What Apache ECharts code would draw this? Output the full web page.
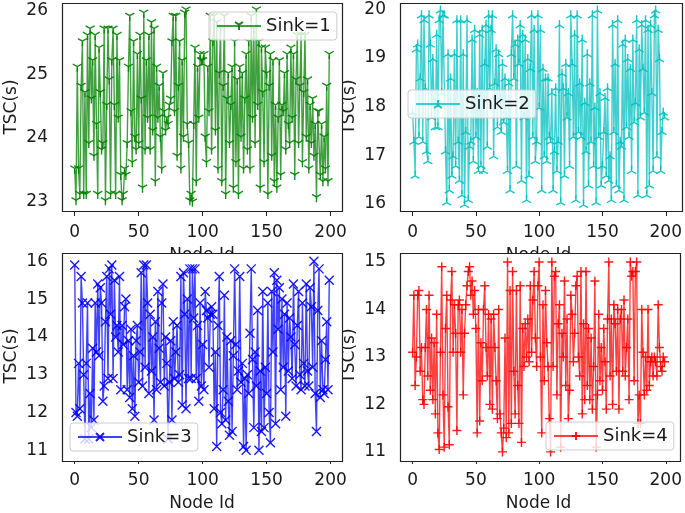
<!DOCTYPE html>
<html><head><meta charset="utf-8">
<script src="https://cdn.jsdelivr.net/npm/echarts@6/dist/echarts.min.js"></script>
<style>html,body{margin:0;padding:0;background:#fff}#c{width:685px;height:513px}</style>
</head><body><div id="c"></div>
<script>
const xTicks = [0, 50, 100, 150, 200];
const xLabel = 'Node Id';
const yLabel = 'TSC(s)';
const names = ['Sink=1', 'Sink=2', 'Sink=3', 'Sink=4'];
const yTicks1 = [23, 24, 25, 26];
const yTicks2 = [16, 17, 18, 19, 20];
const yTicks3 = [11, 12, 13, 14, 15, 16];
const yTicks4 = [11, 12, 13, 14, 15];

const sink1 = [
23.5,23.0,25.1,23.5,23.1,24.8,25.5,23.1,24.7,23.1,
25.6,23.9,25.7,24.6,25.2,23.7,25.6,24.2,23.1,25.4,
24.7,23.8,23.9,25.7,23.0,24.5,25.7,24.9,23.1,25.2,
25.7,24.5,23.1,25.6,24.3,25.2,23.4,23.0,23.1,23.5,
23.4,23.9,25.1,25.9,24.4,23.6,25.5,24.0,23.8,25.3,
23.9,25.6,24.6,23.2,25.95,23.8,25.2,24.3,25.6,23.8,
25.8,24.1,25.7,23.3,25.1,24.3,24.8,24.0,23.5,25.0,
24.4,24.1,24.3,24.2,24.5,24.6,25.5,25.9,24.4,25.9,
23.7,24.8,25.5,23.5,25.2,24.0,25.95,26.0,24.2,23.9,
23.0,23.1,22.98,24.2,25.4,23.3,25.1,24.3,25.3,25.2,
25.2,25.3,24.0,23.6,25.1,24.4,25.9,23.8,25.5,25.9,
24.1,25.8,23.5,25.0,25.7,23.3,24.8,25.9,23.1,24.6,
25.0,23.9,24.5,25.1,23.2,25.5,23.6,24.9,23.1,25.1,
24.0,25.0,23.5,24.6,25.3,23.8,25.5,23.5,25.9,24.3,
25.7,23.9,26.0,24.5,25.5,23.2,25.4,24.7,23.6,25.4,
25.0,23.1,24.8,25.3,23.7,25.2,23.3,24.5,23.2,24.3,
25.2,23.4,24.5,24.4,25.0,23.8,25.3,24.2,23.9,25.4,
24.3,25.3,23.4,24.9,25.6,23.9,24.8,25.6,23.6,24.7,
25.6,24.0,24.9,23.5,24.5,23.9,24.6,23.7,24.2,23.05,
24.4,24.4,23.4,24.2,23.3,24.0,23.5,24.8,23.3,25.3
];
const sink2 = [
17.9,17.3,16.6,19.2,19.3,17.4,18.6,19.9,17.3,19.8,
18.4,17.1,16.9,19.9,19.3,17.8,19.0,18.1,17.6,19.5,
17.6,19.8,20.0,18.3,19.9,19.9,17.1,16.05,19.1,16.3,
18.6,16.6,17.0,19.1,16.8,19.8,17.3,16.5,19.8,16.2,
19.1,16.0,17.5,19.8,16.1,17.2,17.3,19.4,16.9,19.6,
17.4,18.3,16.7,19.5,16.8,19.6,16.7,18.9,19.7,17.2,
19.9,18.4,19.6,19.9,17.0,18.5,19.2,17.6,19.1,18.2,
17.5,18.9,17.7,18.6,17.8,16.7,18.5,16.3,19.1,19.9,
18.6,19.3,16.8,19.4,18.9,19.7,16.5,19.5,17.8,19.4,
16.1,19.0,16.6,18.8,19.9,17.4,19.6,16.9,17.3,19.9,
18.0,19.6,16.3,18.8,17.0,18.6,16.9,18.6,17.4,17.3,
18.3,16.3,17.1,18.4,16.7,17.3,19.7,16.05,18.7,18.4,
16.6,18.9,17.8,18.3,16.8,19.9,18.9,17.4,19.5,16.1,
19.9,17.5,18.5,17.4,19.4,16.0,18.1,17.1,19.1,16.4,
18.5,17.3,19.9,16.8,18.0,16.05,20.0,17.4,18.3,16.4,
16.8,17.5,18.2,16.6,18.4,16.5,17.0,16.1,19.7,17.5,
18.9,16.4,19.8,16.3,17.3,17.2,19.3,16.1,19.4,17.6,
19.0,17.4,18.8,16.7,19.4,17.7,18.1,19.8,16.2,19.2,
17.8,19.7,18.8,17.9,19.8,16.2,19.6,16.4,19.7,18.3,
16.7,19.9,20.0,17.0,19.6,19.0,16.7,17.5,17.9,17.8
];
const sink3 = [
15.9,12.0,11.9,13.3,12.1,15.6,14.9,13.0,11.3,13.3,
14.9,11.3,12.5,11.6,13.7,11.8,14.9,13.6,15.4,13.5,
15.3,14.9,12.3,12.7,14.4,15.6,12.9,15.8,14.6,15.9,
12.9,15.5,14.0,14.3,13.6,15.6,12.6,14.3,13.8,14.8,
15.0,12.6,13.9,12.4,14.2,12.1,13.5,11.9,13.9,14.3,
12.8,13.6,15.7,12.7,15.9,13.2,15.9,14.9,12.5,14.6,
13.1,14.0,11.8,14.4,12.6,15.2,13.7,12.8,14.9,15.4,
12.7,14.0,13.3,11.3,12.8,13.9,11.8,14.4,12.9,13.6,
14.3,12.8,13.0,15.6,12.2,15.7,14.6,12.1,15.0,12.9,
15.8,12.9,15.8,14.5,15.8,12.9,14.3,12.3,14.9,12.7,
13.8,12.6,15.2,14.7,14.5,13.2,14.6,14.8,14.6,12.1,
13.6,11.1,14.3,15.6,12.0,11.7,12.6,15.1,11.8,14.0,
12.3,11.4,13.9,11.5,13.5,15.8,13.8,12.6,13.1,15.6,
12.8,13.3,11.1,12.9,11.0,13.0,12.5,14.1,15.8,13.4,
11.6,13.6,12.7,14.7,11.0,13.1,11.5,15.2,11.6,13.2,
12.5,14.9,12.0,11.2,15.2,13.6,15.7,11.7,15.5,14.2,
15.3,12.6,15.0,13.2,14.6,11.9,14.9,13.1,14.5,14.0,
12.9,15.4,13.8,12.7,14.3,15.2,13.0,12.6,14.9,13.3,
12.7,15.4,13.1,12.7,15.3,14.8,13.2,16.0,12.5,11.5,
14.7,15.8,12.4,13.9,12.6,12.5,13.4,14.4,12.6,15.5
];
const sink4 = [
13.1,14.3,12.4,13.0,14.3,14.4,12.7,13.2,12.1,12.0,
13.2,14.0,12.6,14.3,12.3,13.4,12.1,13.3,11.8,13.9,
11.4,11.05,13.1,14.9,12.2,11.1,13.6,14.3,11.95,11.15,
14.2,14.8,13.1,14.1,13.5,11.45,14.1,14.2,13.1,14.0,
12.2,13.5,14.1,14.5,14.8,14.9,14.3,14.6,13.9,14.4,
13.6,11.4,14.0,11.65,13.3,12.5,14.0,14.5,13.2,12.6,
13.9,12.0,13.8,11.9,13.9,13.2,12.5,11.7,14.0,11.8,
11.4,11.0,11.5,13.4,11.3,15.0,11.4,14.4,11.6,14.8,
12.7,11.8,14.4,12.4,11.6,14.5,11.2,13.6,12.8,13.7,
13.0,13.8,12.9,14.5,13.1,14.2,14.8,13.4,12.8,14.5,
15.0,13.0,11.4,14.1,12.5,14.4,13.3,12.8,11.7,11.0,
15.0,12.8,14.7,14.8,12.2,13.7,14.1,11.1,13.5,13.0,
14.6,12.4,13.8,11.7,12.3,14.3,13.9,12.9,13.5,14.5,
14.7,13.0,12.6,14.8,11.8,13.7,12.1,14.8,12.4,13.6,
12.1,13.4,11.9,12.8,14.6,11.1,12.2,13.9,12.5,13.2,
12.3,13.6,12.9,11.9,13.8,15.0,12.6,13.8,12.0,14.1,
13.7,12.7,14.0,11.9,13.8,14.0,12.7,14.2,12.6,13.2,
13.8,12.1,15.0,14.7,14.8,12.5,14.8,15.0,11.6,12.2,
11.6,14.0,13.1,12.2,13.0,12.3,14.0,12.4,12.9,13.0,
12.6,13.0,12.9,12.6,14.1,13.2,12.8,12.7,13.0,12.9
];

const FONT = 'DejaVu Sans';
const TXT = '#1a1a1a';
const TICK_FS = 17, NAME_FS = 17, LEG_FS = 18;
const panels = [
  {data: sink1, yTicks: yTicks1, ymin: 22.85, ymax: 26.12, color: '#008000',
   sym: 'path://M5,5 L5,10 M5,5 L0.67,2.5 M5,5 L9.33,2.5',
   grid: {left: 62, top: 3, width: 280, height: 208}, legend: {left: 209, top: 12}},
  {data: sink2, yTicks: yTicks2, ymin: 15.85, ymax: 20.13, color: '#00bfbf',
   sym: 'path://M5,5 L5,0 M5,5 L0.67,7.5 M5,5 L9.33,7.5',
   grid: {left: 400, top: 3, width: 282, height: 208}, legend: {left: 408, top: 90}},
  {data: sink3, yTicks: yTicks3, ymin: 10.77, ymax: 16.22, color: '#0000ff',
   sym: 'path://M0,0 L10,10 M10,0 L0,10',
   grid: {left: 62, top: 253, width: 280, height: 208}, legend: {left: 70, top: 423}},
  {data: sink4, yTicks: yTicks4, ymin: 10.85, ymax: 15.19, color: '#ff0000',
   sym: 'path://M5,0 L5,10 M0,5 L10,5',
   grid: {left: 400, top: 253, width: 280, height: 208}, legend: {left: 546, top: 422}}
];

const option = {
  animation: false,
  backgroundColor: '#fff',
  textStyle: {fontFamily: FONT},
  grid: [], xAxis: [], yAxis: [], series: [], legend: [], graphic: []
};
panels.forEach((p, i) => {
  option.grid.push(Object.assign({containLabel: false}, p.grid));
  option.graphic.push({type: 'rect', z: 1, silent: true,
    shape: {x: p.grid.left + 0.5, y: p.grid.top + 0.5, width: p.grid.width, height: p.grid.height},
    style: {fill: '#fff', stroke: '#222', lineWidth: 1.2}});
  option.xAxis.push({type: 'value', gridIndex: i, min: -9.95, max: 208.95,
    name: xLabel, nameLocation: 'middle', nameGap: 36,
    nameTextStyle: {fontFamily: FONT, fontSize: NAME_FS, color: TXT},
    axisLine: {show: false}, splitLine: {show: false},
    axisTick: {show: true, length: 5, inside: false, customValues: xTicks, lineStyle: {color: '#222'}},
    axisLabel: {customValues: xTicks, margin: 13, fontFamily: FONT, fontSize: TICK_FS, color: TXT}});
  option.yAxis.push({type: 'value', gridIndex: i, min: p.ymin, max: p.ymax,
    name: yLabel, nameLocation: 'middle', nameGap: 42, nameRotate: 90,
    nameTextStyle: {fontFamily: FONT, fontSize: NAME_FS, color: TXT},
    axisLine: {show: false}, splitLine: {show: false},
    axisTick: {show: true, length: 5, inside: false, customValues: p.yTicks, lineStyle: {color: '#222'}},
    axisLabel: {customValues: p.yTicks, margin: 14, fontFamily: FONT, fontSize: TICK_FS, color: TXT}});
  option.series.push({type: 'line', name: names[i], xAxisIndex: i, yAxisIndex: i, z: 2,
    data: p.data.map((v, k) => [k, v]),
    symbol: p.sym, symbolSize: 9, symbolKeepAspect: true, showAllSymbol: true,
    lineStyle: {color: p.color, width: 1.4, opacity: 0.75},
    itemStyle: {color: 'rgba(0,0,0,0)', borderColor: p.color, borderWidth: 1.4, opacity: 0.9},
    emphasis: {disabled: true}, clip: true});
  option.legend.push({data: [names[i]], left: p.legend.left, top: p.legend.top,
    orient: 'vertical', padding: [5, 6, 5, 7], itemWidth: 44, itemHeight: 10,
    backgroundColor: 'rgba(255,255,255,0.8)', borderColor: '#cccccc', borderWidth: 1, borderRadius: 3,
    textStyle: {fontFamily: FONT, fontSize: LEG_FS, color: TXT}, selectedMode: false, z: 10});
});
const chart = echarts.init(document.getElementById('c'), null, {renderer: 'canvas'});
chart.setOption(option);
</script></body></html>
